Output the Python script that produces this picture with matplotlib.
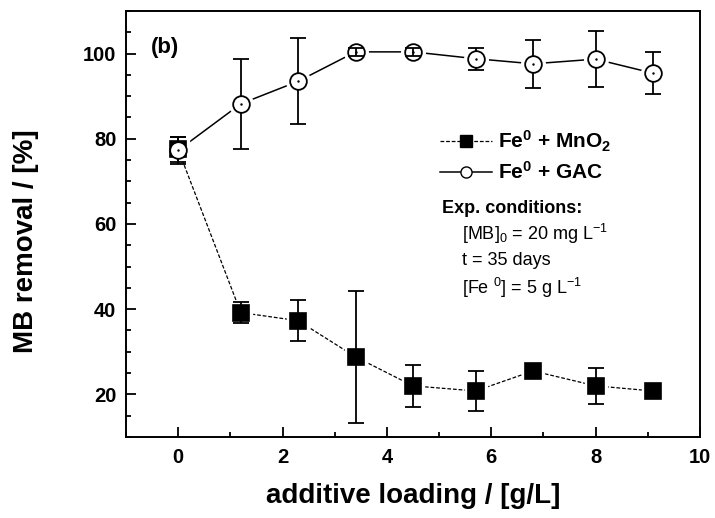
import numpy as np
import matplotlib.pyplot as plt
from matplotlib.lines import Line2D

# data
loading = [0, 1.2, 2.3, 3.4, 4.5, 5.7, 6.8, 8.0, 9.1]
mno2 = [77.5, 39.2, 37.3, 28.8, 22.0, 20.8, 25.5, 22.0, 20.8]
mno2_err = [3.0, 2.4, 4.8, 15.5, 4.9, 4.6, 1.5, 4.3, 0.8]
gac = [77.3, 88.2, 93.5, 100.4, 100.4, 98.8, 97.6, 98.7, 95.4]
gac_err = [3.2, 10.5, 10.1, 1.0, 1.0, 2.6, 5.6, 6.6, 4.9]

plt.rcParams['font.family'] = ['Liberation Sans', 'DejaVu Sans']
plt.rcParams['mathtext.fontset'] = 'custom'
plt.rcParams['mathtext.rm'] = 'Liberation Sans'
plt.rcParams['mathtext.bf'] = 'Liberation Sans:bold'
plt.rcParams['mathtext.default'] = 'rm'

fig = plt.figure(figsize=(7.15, 5.18), dpi=100)
ax = fig.add_axes([0.1762, 0.1564, 0.8028, 0.8224])

# lines first, white halos make the gaps around markers
ax.plot(loading, mno2, color='black', lw=0.9, ls=(0, (3, 1.5)), zorder=1)
ax.plot(loading, gac, color='black', lw=1.1, zorder=1)
ax.plot(loading, mno2, ls='none', marker='s', ms=16, color='white', zorder=2)
ax.plot(loading, gac, ls='none', marker='o', ms=17, color='white', zorder=2)

ax.errorbar(loading, mno2, yerr=mno2_err, fmt='none', ecolor='black',
            elinewidth=1.3, capsize=6, capthick=1.3, zorder=3)

# small GAC errors show inside the open circles, large ones stop at the edge
small = np.array(gac_err) < 2
x = np.array(loading)
ax.errorbar(x[~small], np.array(gac)[~small], yerr=np.array(gac_err)[~small],
            fmt='none', ecolor='black', elinewidth=1.3, capsize=6, capthick=1.3,
            zorder=3)
ax.errorbar(x[small], np.array(gac)[small], yerr=np.array(gac_err)[small],
            fmt='none', ecolor='black', elinewidth=1.3, capsize=6, capthick=1.3,
            zorder=7)

ax.plot(loading, mno2, ls='none', marker='s', ms=11, mfc='black',
        mec='black', mew=1.2, zorder=4)
ax.plot(loading, gac, ls='none', marker='o', ms=12, mfc='white',
        mec='black', mew=1.3, zorder=5)
ax.plot(loading, gac, ls='none', marker='.', ms=1.5, color='black', zorder=6)

ax.set_xlim(-1, 10)
ax.set_ylim(10, 110)
ax.set_xticks(np.arange(0, 11, 2))
ax.set_xticks(np.arange(-1, 10.5, 1), minor=True)
ax.set_yticks(np.arange(20, 101, 20))
ax.set_yticks(np.arange(10, 111, 5), minor=True)
ax.tick_params(which='both', direction='in', width=1.3, top=False, right=False)
ax.tick_params(which='major', length=7, labelsize=14.5)
ax.tick_params(axis='y', which='major', pad=7)
ax.tick_params(axis='x', which='major', pad=8)
ax.tick_params(which='minor', length=3.5)
for lab in ax.get_xticklabels() + ax.get_yticklabels():
    lab.set_fontweight('bold')
for sp in ax.spines.values():
    sp.set_linewidth(1.4)

ax.set_xlabel('additive loading / [g/L]', fontsize=20, fontweight='bold')
ax.set_ylabel('MB removal / [%]', fontsize=20, fontweight='bold')
ax.xaxis.set_label_coords(0.5, -0.107)
ax.yaxis.set_label_coords(-0.151, 0.46)

ax.text(-0.52, 101.5, '(b)', fontsize=16, fontweight='bold', va='center')

handles = [
    Line2D([], [], color='black', lw=0.9, ls=(0, (3, 1.5)), marker='s', ms=8,
           mfc='black', mec='black'),
    Line2D([], [], color='black', lw=1.1, marker='o', ms=8, mfc='white', mec='black'),
]
labels = [r'Fe$^{\mathbf{0}}$ + MnO$_{\mathbf{2}}$', r'Fe$^{\mathbf{0}}$ + GAC']
ax.legend(handles, labels, loc='upper left', bbox_to_anchor=(0.547, 0.7237),
          frameon=False, borderpad=0, borderaxespad=0, handlelength=2.5,
          handletextpad=0.3, labelspacing=0.35,
          prop={'weight': 'bold', 'size': 15})

ax.text(5.06, 63.6, 'Exp. conditions:', fontsize=13, fontweight='bold', va='center')
ax.text(5.43, 57.7, r'[MB]$_0$ = 20 mg L$^{-1}$', fontsize=13, va='center')
ax.text(5.43, 51.4, 't = 35 days', fontsize=13, va='center')
ax.text(5.43, 45.0, r'[Fe $^0$] = 5 g L$^{-1}$', fontsize=13, va='center')

fig.savefig('out.png', dpi=100)
